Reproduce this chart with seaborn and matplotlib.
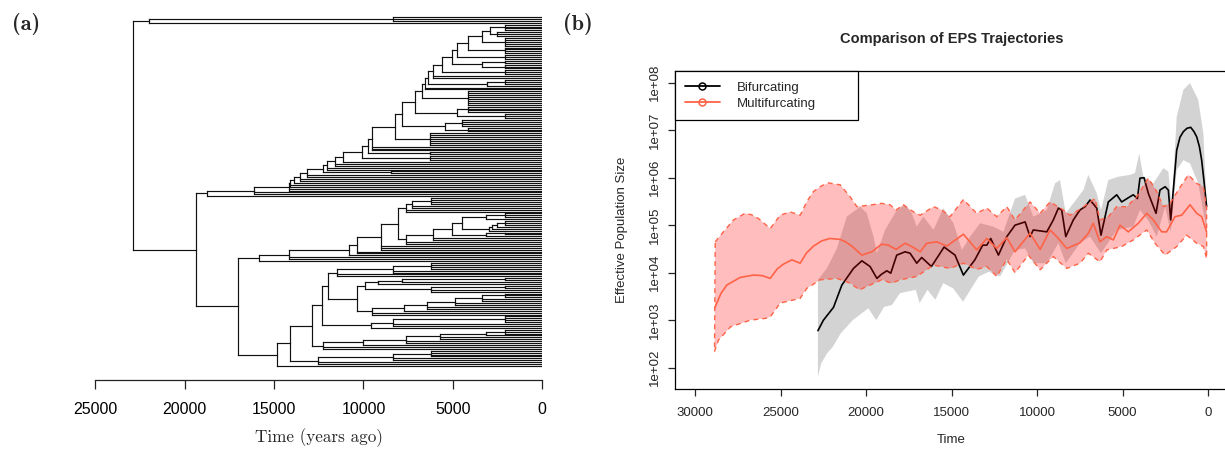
import numpy as np
import pandas as pd
import matplotlib
matplotlib.use("Agg")
import matplotlib.pyplot as plt
import seaborn as sns
from matplotlib.collections import LineCollection
from matplotlib.lines import Line2D
from matplotlib.ticker import NullLocator

# ---------------------------------------------------------------- tree (panel a)
# Clades in a compact Newick-like notation: "(child,child)age", "#n" = n tips at age 0.
# Ages are in years before present.
TOP_CLADE = "((#3)8370,#1)21980"

UPPER_CROWN = "(((#4)2087,(#3)2552)2925,(#5)2087)3390"
UPPER_SPINE_AGES = [4137, 4790, 5070, 5627, 6094, 6376, 6563, 6750, 7122, 7866, 8240,
                    9543, 9730, 10103, 11130, 11594, 12060, 12250, 13180, 13550, 13886,
                    14110, 14185, 16125, 18770]
UPPER_SIDES = ["(#4)2087", "(#3)2087", "((#2)2087,(#3)2087)3390", "(#3)2087", "#2",
               "((#3)2087,#1)3112", "#2", "(#8)4137", "((#4)4137,(#3)2087)4790",
               "((#4)4510,(#3)4137)5441", "(#7)6283",
               "#3", "(#2)6283", "(#3)6283", "#1", "#2", "#2", "(#2)8460", "#2", "#2",
               "#1", "#2", "#2", "#2", "#1"]

LOWER1_CROWN = ("((((#4)6220,#2)7288,#2)7623,"
                "((((((#3)2087,#1)3150,((((#3)2087,#1)2552,#1)2800,#1)2980)4510,"
                "((#2)2087,#1)3150)5070,#2)6130,#2)7623)8054")
LOWER1_SPINE_AGES = [9022, 10347, 10795, 14185, 15830]
LOWER1_SIDES = ["#3", "#2", "#1", "#2", "#1"]

RECENT_CROWN = "(#3)2087"
LADDER_B_AGES = [3150, 5720, 7650, 10040, 12250]
LADDER_B_SIDES = ["#1", "#2", "#2", "#1", "#2"]
LADDER_C_AGES = [3390, 4900, 6460, 7740, 9540]
LADDER_C_SIDES = ["#2", "#2", "#2", "#1", "#2"]
SUBCLADE_9920 = "((((#2)2087,#1)7830,#1)9180,((#2)2087,#2)6220)9920"
SUBCLADE_11500 = "(((#4)6220,#2)8370,#2)11500"
SUBCLADE_9570 = "(((#4)2087,#2)8370,#1)9570"
SUBCLADE_12525 = "(((#4)6220,#2)8370,#2)12525"
LOWER2_SPINE_AGES = [12340, 12860, 14110, 14855]

LOWER_AGE = 17000
BIG_AGE = 19370
ROOT_AGE = 22910


def ladder(crown, ages, sides):
    s = crown
    for a, side in zip(ages, sides):
        s = f"({s},{side}){a}"
    return s


def parse(s):
    assert s.count("(") == s.count(")"), "unbalanced clade string"
    pos = 0

    def number():
        nonlocal pos
        j = pos
        while pos < len(s) and (s[pos].isdigit() or s[pos] == "."):
            pos += 1
        return float(s[j:pos])

    def items():
        nonlocal pos
        if s[pos] == "#":
            pos += 1
            return [0.0] * int(number())
        pos += 1  # '('
        kids = []
        while True:
            kids.extend(items())
            if s[pos] == ",":
                pos += 1
                continue
            pos += 1  # ')'
            break
        return [(number(), kids)]

    return items()[0]


upper = ladder(UPPER_CROWN, UPPER_SPINE_AGES, UPPER_SIDES)
lower1 = ladder(LOWER1_CROWN, LOWER1_SPINE_AGES, LOWER1_SIDES)
ladder_b = ladder(RECENT_CROWN, LADDER_B_AGES, LADDER_B_SIDES)
ladder_c = ladder(RECENT_CROWN, LADDER_C_AGES, LADDER_C_SIDES)
lower2_crown = f"({SUBCLADE_11500},({SUBCLADE_9920},{ladder_c})10347)12000"
lower2 = ladder(lower2_crown, LOWER2_SPINE_AGES,
                [SUBCLADE_9570, ladder_b, SUBCLADE_12525, "#1"])
tree_string = f"({TOP_CLADE},({upper},({lower1},{lower2}){LOWER_AGE}){BIG_AGE}){ROOT_AGE}"
tree = parse(tree_string)

segments = []
tip_index = [0]


def layout(node):
    if not isinstance(node, tuple):
        y = tip_index[0]
        tip_index[0] += 1
        return 0.0, y
    age, kids = node
    ys = []
    for k in kids:
        kage, ky = layout(k)
        segments.append([(age, ky), (kage, ky)])
        ys.append(ky)
    segments.append([(age, min(ys)), (age, max(ys))])
    return age, (ys[0] + ys[-1]) / 2


layout(tree)
n_tips = tip_index[0]

# ---------------------------------------------------------------- EPS trajectories (panel b)
# times in years before present, values are log10 effective population size
BIF_MED_TIME = [22820, 22500, 21910, 21420, 20740, 20250, 19770, 19370, 19090, 18790, 18560,
                18210, 17720, 17430, 17040, 16750, 16180, 15440, 14800, 14310, 13640, 13180,
                12940, 12710, 12260, 11770, 11290, 10700, 10410, 10220, 9430, 9050, 8750, 8560,
                8320, 7880, 7490, 7190, 6900, 6510, 6260, 5830, 5340, 5050, 4560, 4370, 4130,
                3980, 3740, 3490, 3040, 2810, 2510, 2320, 2180, 1830, 1640, 1440, 1230, 1010,
                820, 660, 500, 370, 240, 80]
BIF_MED_LOG = [2.78, 3.00, 3.27, 3.74, 4.09, 4.25, 4.13, 3.88, 3.97, 4.04, 3.99,
               4.37, 4.44, 4.41, 4.20, 4.32, 4.13, 4.54, 4.37, 3.95, 4.27, 4.58,
               4.58, 4.72, 4.37, 4.76, 5.00, 5.07, 4.76, 4.90, 4.86, 5.11, 5.36, 5.32,
               4.76, 5.11, 5.32, 5.39, 5.53, 5.36, 4.79, 5.49, 5.64, 5.49, 5.60, 5.64, 5.56,
               5.99, 6.00, 5.67, 5.25, 5.74, 5.81, 5.74, 5.11, 6.58, 6.85, 6.97, 7.04, 7.06,
               6.97, 6.86, 6.65, 6.37, 5.95, 5.39]

BIF_UP_TIME = [22820, 22300, 21710, 21130, 20350, 19960, 19570, 19370, 18890, 18200, 17720,
               17330, 17040, 16650, 16060, 15480, 14890, 14400, 13920, 13330, 12560, 11970,
               11290, 10700, 10220, 9430, 8950, 8660, 8320, 7880, 7290, 7000, 6510, 6260, 5830,
               5250, 4560, 4270, 4020, 3780, 3200, 2610, 2320, 2120, 1830, 1440, 1050, 570,
               270, 80]
BIF_UP_LOG = [3.85, 4.09, 4.51, 5.18, 5.39, 5.25, 4.76, 4.41, 4.90, 5.32, 5.43,
              5.25, 4.97, 5.18, 4.90, 5.36, 5.04, 4.48, 4.76, 5.04, 4.97, 4.86,
              5.56, 5.64, 5.18, 5.32, 5.88, 5.95, 5.25, 5.46, 5.74, 6.06, 5.67, 5.32, 5.95,
              6.02, 6.06, 6.10, 6.51, 6.02, 5.88, 6.20, 6.13, 5.39, 7.28, 7.85, 7.99, 7.64,
              6.93, 5.46]

BIF_LO_TIME = [22820, 22630, 22290, 21950, 21490, 20790, 19870, 19410, 18950, 18490, 18020,
               17100, 16870, 16410, 15950, 15490, 14910, 14330, 13410, 12830, 12160, 11290,
               10700, 10220, 9430, 8750, 8320, 7490, 6900, 6260, 5340, 4370, 3980, 3490, 3000,
               2510, 2180, 1830, 1440, 1050, 570, 80]
BIF_LO_LOG = [1.81, 2.09, 2.30, 2.44, 2.72, 3.00, 3.25, 3.00, 3.28, 3.32, 3.57,
              3.64, 3.36, 3.64, 3.43, 3.78, 3.67, 3.39, 3.92, 4.02, 3.92, 4.48,
              4.51, 4.20, 4.20, 4.62, 4.20, 4.62, 4.76, 4.41, 4.90, 4.97, 5.32, 5.10, 4.76,
              5.39, 4.86, 6.16, 6.37, 6.30, 5.88, 4.90]

MUL_MED_TIME = [28830, 28500, 28150, 27370, 26590, 26100, 25610, 25200, 24840, 24350, 23860,
                23480, 23080, 22600, 22110, 21520, 21200, 20840, 20250, 19670, 19090, 18700,
                18250, 17720, 17230, 16840, 16450, 15870, 15280, 14310, 13530, 12940, 12360,
                11770, 11290, 10410, 9820, 9240, 8850, 8260, 7490, 7000, 6710, 6320, 5920, 5540,
                5150, 4660, 4080, 3580, 3200, 2710, 2420, 1930, 1540, 1050, 660, 370, 80]
MUL_MED_LOG = [3.28, 3.56, 3.74, 3.90, 3.95, 3.94, 3.88, 4.08, 4.18, 4.27, 4.20,
               4.42, 4.56, 4.67, 4.72, 4.70, 4.65, 4.56, 4.37, 4.44, 4.60, 4.58,
               4.49, 4.62, 4.53, 4.44, 4.62, 4.65, 4.56, 4.81, 4.48, 4.72, 4.51,
               4.74, 4.44, 4.83, 4.49, 4.90, 4.76, 4.51, 4.63, 4.83, 5.04, 4.65, 4.76, 4.69,
               5.00, 4.86, 5.04, 5.25, 5.11, 4.86, 4.86, 5.18, 5.21, 5.43, 5.25, 5.18, 4.86]

MUL_UP_TIME = [28830, 28350, 27760, 27080, 26700, 26300, 25610, 25030, 24440, 23860, 23460,
               23080, 22600, 22200, 21520, 20940, 20540, 20100, 19670, 19090, 18600, 18250,
               17820, 17230, 16840, 16060, 15570, 15090, 14310, 13530, 12940, 12360, 11770,
               11290, 10410, 9820, 9240, 8460, 8070, 7390, 6900, 6610, 6320, 5830, 5340, 4750,
               4170, 3490, 3000, 2610, 2220, 1740, 1150, 660, 270, 80]
MUL_UP_LOG = [4.65, 4.86, 5.11, 5.25, 5.22, 5.14, 4.93, 5.21, 5.28, 5.21, 5.50,
              5.71, 5.83, 5.89, 5.85, 5.60, 5.39, 5.41, 5.43, 5.46, 5.43, 5.32,
              5.43, 5.28, 5.21, 5.39, 5.32, 5.18, 5.54, 5.25, 5.36, 5.18, 5.39,
              5.11, 5.49, 5.25, 5.49, 5.32, 5.21, 5.36, 5.49, 5.56, 5.11, 5.18, 5.39, 5.39,
              5.60, 5.99, 5.71, 5.39, 5.46, 5.74, 6.06, 5.88, 5.81, 5.36]

MUL_LO_TIME = [28870, 28640, 27940, 26780, 25870, 25610, 25030, 23860, 23470, 22690, 21710,
               20940, 20390, 19770, 19090, 18500, 18010, 17040, 16060, 15090, 14310, 13530,
               12940, 12360, 11770, 11290, 10510, 9820, 9050, 8260, 7490, 7000, 6320, 5920,
               5050, 4370, 3580, 3100, 2510, 1830, 1250, 660, 270, 80]
MUL_LO_LOG = [2.34, 2.58, 2.86, 3.00, 3.04, 3.07, 3.36, 3.46, 3.67, 3.85, 3.88,
              3.78, 3.64, 3.74, 3.85, 3.78, 3.85, 3.92, 4.16, 4.09, 4.20, 4.07,
              4.13, 3.92, 4.28, 4.00, 4.37, 4.06, 4.34, 4.09, 4.20, 4.41, 4.23, 4.48,
              4.55, 4.69, 4.90, 4.62, 4.37, 4.55, 4.79, 4.62, 4.55, 4.30]

SERIES_NAMES = ["Bifurcating", "Multifurcating"]
SERIES_COLORS = ["black", "tomato"]

# ---------------------------------------------------------------- figure
sns.set_theme(style="ticks")
plt.rcParams["font.family"] = ["Liberation Sans", "DejaVu Sans"]

W, H = 1225, 449
fig = plt.figure(figsize=(W / 100, H / 100), dpi=100)


def frac_box(x0, y_top, x1, y_bot):
    return [x0 / W, 1 - y_bot / H, (x1 - x0) / W, (y_bot - y_top) / H]


# panel (a): time-scaled tree
axl = fig.add_axes(frac_box(95.3, 14, 542.3, 380))
lc = LineCollection(segments, colors="#111111", linewidths=0.85, capstyle="projecting")
axl.add_collection(lc)
px_per_tip = (366 - 17) / (n_tips - 1)
axl.set_ylim((n_tips - 1) + (380 - 366) / px_per_tip, -(17 - 14) / px_per_tip)
axl.set_xlim(25000, 0)
for side in ("left", "top", "right"):
    axl.spines[side].set_visible(False)
axl.spines["bottom"].set_color("#222222")
axl.spines["bottom"].set_linewidth(0.9)
axl.set_yticks([])
axl.set_xticks(range(0, 25001, 5000))
axl.set_xticklabels([str(v) for v in range(0, 25001, 5000)])
axl.tick_params(axis="x", length=6.5, width=0.9, pad=9, labelsize=11.5, colors="#222222",
                labelcolor="black")
axl.set_facecolor("white")

fig.text(318.8 / W, 1 - 438 / H, "Time (years ago)", family="cmr10", size=12.3,
         ha="center", va="center")
fig.text(25.7 / W, 1 - 24 / H, "(a)", family="cmb10", size=16, ha="center", va="center")
fig.text(577.5 / W, 1 - 24 / H, "(b)", family="cmb10", size=16, ha="center", va="center")

# panel (b): effective population size trajectories
axr = fig.add_axes(frac_box(674.7, 71, 1228.5, 388.7))
axr.set_yscale("log")


def frame(t, v):
    return pd.DataFrame({"time": np.asarray(t, float), "pop": np.power(10.0, v)})


def band(up, lo):
    xs = np.r_[up["time"].to_numpy(), lo["time"].to_numpy()[::-1]]
    ys = np.r_[up["pop"].to_numpy(), lo["pop"].to_numpy()[::-1]]
    return xs, ys


bx, by = band(frame(BIF_UP_TIME, BIF_UP_LOG), frame(BIF_LO_TIME, BIF_LO_LOG))
axr.fill(bx, by, facecolor="lightgray", edgecolor="none", zorder=1)
sns.lineplot(data=frame(BIF_MED_TIME, BIF_MED_LOG), x="time", y="pop", ax=axr,
             color=SERIES_COLORS[0], lw=1.2, estimator=None, zorder=2)

mx, my = band(frame(MUL_UP_TIME, MUL_UP_LOG), frame(MUL_LO_TIME, MUL_LO_LOG))
axr.fill(mx, my, facecolor=(1.0, 0.0, 0.0, 0.26), edgecolor=SERIES_COLORS[1],
         linewidth=1.0, linestyle=(0, (3.5, 3)), zorder=3)
sns.lineplot(data=frame(MUL_MED_TIME, MUL_MED_LOG), x="time", y="pop", ax=axr,
             color=SERIES_COLORS[1], lw=1.2, estimator=None, zorder=4)

axr.set_xlim(31200, -1200)
axr.set_ylim(10 ** 1.558, 10 ** 8.246)
axr.set_xticks(range(0, 30001, 5000))
axr.set_xticklabels([str(v) for v in range(0, 30001, 5000)])
axr.set_yticks([10.0 ** k for k in range(2, 9)])
axr.set_yticklabels([f"1e+{k:02d}" for k in range(2, 9)])
axr.yaxis.set_minor_locator(NullLocator())
axr.set_xlabel("")
axr.set_ylabel("")
axr.tick_params(axis="x", length=5, width=0.9, pad=8, labelsize=9.5)
axr.tick_params(axis="y", length=5, width=0.9, pad=5, labelsize=9.5, labelrotation=90)
for lab in axr.get_yticklabels():
    lab.set_va("center")
for sp in axr.spines.values():
    sp.set_visible(True)
    sp.set_color("black")
    sp.set_linewidth(0.9)

handles = [Line2D([], [], color=c, lw=1.3, marker="o", ms=5, mfc="none", mew=1.1)
           for c in SERIES_COLORS]
leg = axr.legend(handles, SERIES_NAMES, loc="upper left",
                 bbox_to_anchor=(0, 1 - 0.151, 0.331, 0.151), mode="expand",
                 borderaxespad=0, frameon=True, fancybox=False, edgecolor="black",
                 framealpha=1, fontsize=9.5, handlelength=2.65, handletextpad=1.3,
                 borderpad=0.78, labelspacing=0.3)
leg.get_frame().set_linewidth(0.9)

fig.text(951.6 / W, 1 - 39 / H, "Comparison of EPS Trajectories", weight="bold",
         size=10.5, ha="center", va="center")
fig.text(951.6 / W, 1 - 440 / H, "Time", size=9.5, ha="center", va="center")
fig.text(622 / W, 1 - 229.9 / H, "Effective Population Size", size=9.5, rotation=90,
         ha="center", va="center")

fig.savefig("out.png", dpi=100, facecolor="white")
